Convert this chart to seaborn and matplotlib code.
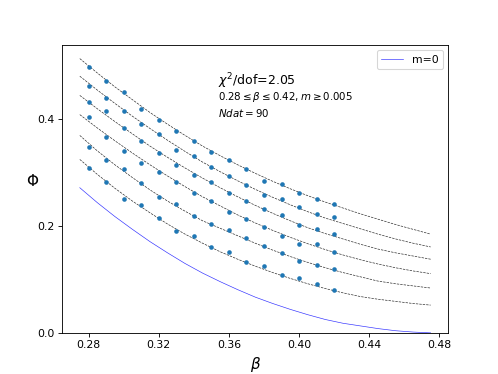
import numpy as np
import pandas as pd
import matplotlib
matplotlib.use("Agg")
import matplotlib.pyplot as plt
import seaborn as sns

# valores de beta das medidas (15 colunas, 6 massas)
beta_dados = [0.28, 0.29, 0.30, 0.31, 0.32, 0.33, 0.34, 0.35,
              0.36, 0.37, 0.38, 0.39, 0.40, 0.41, 0.42]

phi_m1 = [0.499, 0.472, 0.452, 0.420, 0.399, 0.378, 0.359, 0.339,
          0.324, 0.307, 0.284, 0.279, 0.263, 0.251, 0.242]
phi_m2 = [0.463, 0.440, 0.415, 0.391, 0.373, 0.343, 0.331, 0.310,
          0.294, 0.278, 0.259, 0.251, 0.236, 0.222, 0.217]
phi_m3 = [0.432, 0.415, 0.383, 0.360, 0.338, 0.314, 0.296, 0.282,
          0.262, 0.247, 0.232, 0.220, 0.202, 0.195, 0.185]
phi_m4 = [0.404, 0.367, 0.340, 0.319, 0.302, 0.283, 0.263, 0.247,
          0.227, 0.213, 0.198, 0.182, 0.167, 0.166, 0.152]
phi_m5 = [0.349, 0.324, 0.308, 0.281, 0.254, 0.242, 0.219, 0.204,
          0.192, 0.177, 0.162, 0.150, 0.135, 0.128, 0.120]
phi_m6 = [0.309, 0.283, 0.251, 0.239, 0.215, 0.191, 0.182, 0.160,
          0.152, 0.133, 0.125, 0.108, 0.102, 0.091, 0.081]

# curvas do ajuste
beta_fit = [0.275, 0.285, 0.295, 0.305, 0.315, 0.325, 0.335, 0.345,
            0.355, 0.365, 0.375, 0.385, 0.395, 0.405, 0.415, 0.425,
            0.435, 0.445, 0.455, 0.465, 0.475]

fit_m1 = [0.514, 0.487, 0.461, 0.437, 0.413, 0.391, 0.370, 0.350, 0.332, 0.315,
          0.299, 0.284, 0.270, 0.257, 0.245, 0.234, 0.223, 0.213, 0.203, 0.194, 0.185]
fit_m2 = [0.481, 0.455, 0.430, 0.406, 0.383, 0.361, 0.340, 0.320, 0.302, 0.285,
          0.269, 0.254, 0.240, 0.227, 0.215, 0.205, 0.195, 0.185, 0.176, 0.168, 0.161]
fit_m3 = [0.445, 0.420, 0.396, 0.373, 0.350, 0.329, 0.309, 0.290, 0.272, 0.255,
          0.239, 0.224, 0.210, 0.197, 0.186, 0.176, 0.166, 0.157, 0.150, 0.144, 0.138]
fit_m4 = [0.409, 0.384, 0.360, 0.337, 0.315, 0.294, 0.274, 0.255, 0.238, 0.221,
          0.206, 0.192, 0.179, 0.167, 0.156, 0.146, 0.137, 0.129, 0.122, 0.116, 0.111]
fit_m5 = [0.370, 0.341, 0.315, 0.291, 0.268, 0.247, 0.228, 0.210, 0.196, 0.182,
          0.168, 0.155, 0.143, 0.132, 0.122, 0.113, 0.105, 0.097, 0.092, 0.088, 0.084]
fit_m6 = [0.325, 0.297, 0.271, 0.247, 0.225, 0.204, 0.185, 0.168, 0.152, 0.138,
          0.125, 0.113, 0.102, 0.092, 0.083, 0.075, 0.068, 0.063, 0.059, 0.055, 0.052]

# limite quiral (m=0)
fit_m0 = [0.272, 0.244, 0.218, 0.194, 0.171, 0.150, 0.130, 0.112, 0.096, 0.081,
          0.067, 0.055, 0.044, 0.034, 0.025, 0.018, 0.013, 0.008, 0.004, 0.0015, 0.0]

texto_chi = r"$\chi^2$/dof=2.05"
texto_faixa = r"$0.28 \leq \beta \leq 0.42, m \geq 0.005$"
texto_ndat = r"$Ndat = 90$"

dados = pd.concat(
    [pd.DataFrame({"beta": beta_dados, "phi": p, "serie": i})
     for i, p in enumerate([phi_m1, phi_m2, phi_m3, phi_m4, phi_m5, phi_m6])],
    ignore_index=True,
)

fig, ax = plt.subplots(figsize=(498 / 78, 374 / 78), dpi=78)

for curva in [fit_m1, fit_m2, fit_m3, fit_m4, fit_m5, fit_m6]:
    sns.lineplot(x=beta_fit, y=curva, ax=ax, color="k", linestyle="--",
                 linewidth=0.6, alpha=0.85, sort=False)

sns.lineplot(x=beta_fit, y=fit_m0, ax=ax, color="blue", linewidth=0.6,
             alpha=0.8, sort=False, label="m=0")

sns.scatterplot(data=dados, x="beta", y="phi", ax=ax, color="#1f77b4",
                s=18, linewidth=0, legend=False, zorder=3)

ax.set_ylim(bottom=0)
ax.set_xticks([0.28, 0.32, 0.36, 0.40, 0.44, 0.48])
ax.set_yticks([0.0, 0.2, 0.4])
ax.set_xlabel(r"$\beta$", fontsize=14)
ax.set_ylabel(r"$\Phi$", fontsize=14, rotation=0)

ax.text(0.404, 0.875, texto_chi, transform=ax.transAxes, fontsize=11.5, va="center")
ax.text(0.404, 0.818, texto_faixa, transform=ax.transAxes, fontsize=9.5, va="center")
ax.text(0.404, 0.765, texto_ndat, transform=ax.transAxes, fontsize=9.5, va="center")

ax.legend(loc="upper right")

plt.savefig("out.png", dpi=78)
plt.close()
